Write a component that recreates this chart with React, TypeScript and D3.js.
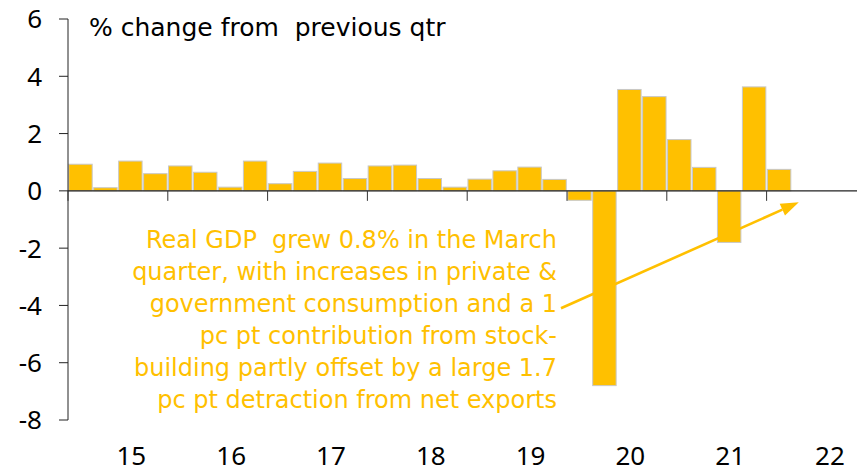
import React from "react";
import * as d3 from "d3";

// quarterly real GDP growth, % q/q
const years = ["15", "16", "17", "18", "19", "20", "21", "22"];
const quarters = years.flatMap((yr) => ["Q1", "Q2", "Q3", "Q4"].map((q) => yr + q));
const growth = [
  0.93, 0.11, 1.04, 0.6, 0.87, 0.65, 0.13, 1.04, 0.25, 0.68, 0.97, 0.43, 0.87, 0.9, 0.43,
  0.13, 0.41, 0.7, 0.83, 0.4, -0.33, -6.8, 3.54, 3.29, 1.79, 0.82, -1.8, 3.63, 0.75,
];
const yTicks = [-8, -6, -4, -2, 0, 2, 4, 6];
const title = "% change from  previous qtr";
const noteLines = [
  "Real GDP  grew 0.8% in the March",
  "quarter, with increases in private &",
  "government consumption and a 1",
  "pc pt contribution from stock-",
  "building partly offset by a large 1.7",
  "pc pt detraction from net exports",
];

const W = 857;
const H = 473;
const FONT = "'Noto Sans', sans-serif";
const WIDE = "'DejaVu Sans', sans-serif";
const GOLD = "#FFC000";

export default function App() {
  const x = d3.scaleBand().domain(quarters).range([68, 866.4]).paddingInner(0.06).paddingOuter(0.03);
  const y = d3.scaleLinear().domain([-8, 6]).range([420, 19]);
  const step = x.step();
  const x0 = x.range()[0];

  const data = growth.map((v, i) => ({ q: quarters[i], v }));

  // annotation arrow: from end of note line 3 to just past the latest bar
  const last = data[data.length - 1];
  const ax1 = 561;
  const ay1 = y(-4.1);
  const ax2 = (x(last.q) as number) + x.bandwidth() + 8;
  const ay2 = y(-0.4);
  const ang = Math.atan2(ay2 - ay1, ax2 - ax1);
  const hl = 18, hw = 6.5;
  const bx = ax2 - hl * Math.cos(ang), by = ay2 - hl * Math.sin(ang);
  const head = [
    [ax2, ay2],
    [bx + hw * Math.sin(ang), by - hw * Math.cos(ang)],
    [bx - hw * Math.sin(ang), by + hw * Math.cos(ang)],
  ];

  return (
    <svg width={W} height={H} style={{ position: "fixed", left: 0, top: 0, background: "#fff" }} fontFamily={FONT}>
      {/* bars */}
      <g>
        {data.map((d) => (
          <rect
            key={d.q}
            x={x(d.q)}
            y={y(Math.max(0, d.v))}
            width={x.bandwidth()}
            height={Math.abs(y(d.v) - y(0))}
            fill={GOLD}
            stroke="#c8c8c8"
            strokeWidth={1}
          />
        ))}
      </g>

      {/* y axis */}
      <g>
        <line x1={x0} x2={x0} y1={y(6)} y2={y(-8)} stroke="#222" strokeWidth={1} />
        {yTicks.map((t) => (
          <g key={t} transform={`translate(0,${y(t)})`}>
            <line x1={x0 - 9} x2={x0} stroke="#222" strokeWidth={1} />
            <text x={42} dy="0.36em" textAnchor="end" fontSize={26} fill="#000">
              {t}
            </text>
          </g>
        ))}
      </g>

      {/* x axis */}
      <g>
        <line x1={x0} x2={W} y1={y(0)} y2={y(0)} stroke="#222" strokeWidth={1.2} />
        {years.map((yr, i) => (
          <line key={yr} x1={x0 + i * 4 * step} x2={x0 + i * 4 * step} y1={y(0)} y2={y(0) + 10} stroke="#333" />
        ))}
        {years.map((yr) => (
          <text
            key={yr}
            x={(x(yr + "Q3") as number) + x.bandwidth() / 2 + 1}
            y={465}
            textAnchor="middle"
            fontSize={26}
            fill="#000"
          >
            {yr}
          </text>
        ))}
      </g>

      {/* title */}
      <text x={89} y={36} fontSize={25} fontFamily={WIDE} fill="#000" style={{ whiteSpace: "pre" }}>
        {title}
      </text>

      {/* note */}
      <g fill={GOLD} fontSize={24} fontFamily={WIDE} textAnchor="end">
        {noteLines.map((l, i) => (
          <text key={i} x={557} y={248 + i * 32} style={{ whiteSpace: "pre" }}>
            {l}
          </text>
        ))}
      </g>
      <line x1={ax1} y1={ay1} x2={bx} y2={by} stroke={GOLD} strokeWidth={2.6} />
      <polygon points={head.map((p) => p.join(",")).join(" ")} fill={GOLD} />
    </svg>
  );
}
